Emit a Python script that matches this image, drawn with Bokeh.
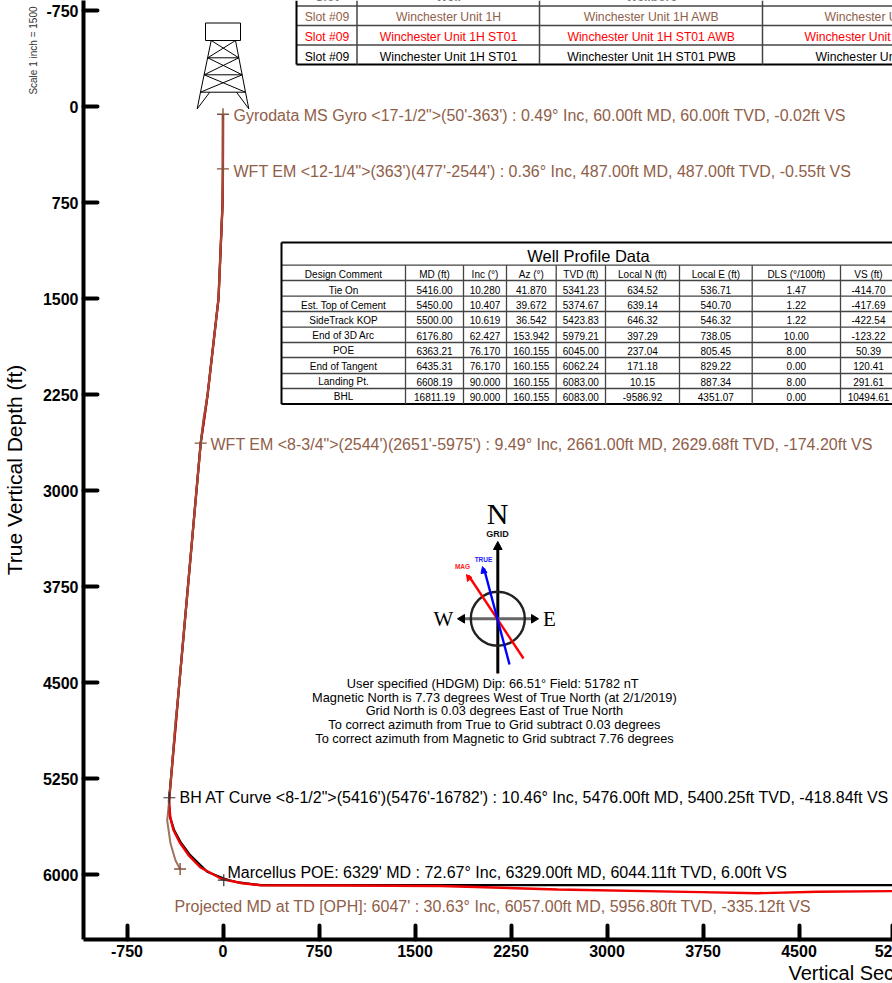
from bokeh.plotting import figure
from bokeh.models import Range1d, FixedTicker, Title
from bokeh.core.properties import value
from bokeh.embed import file_html
from bokeh.resources import INLINE

# ---- data ----
Y_TICKS = [-750, 0, 750, 1500, 2250, 3000, 3750, 4500, 5250, 6000]
X_TICKS = [-750, 0, 750, 1500, 2250, 3000, 3750, 4500]
# the 5250 tick sits just past the right edge of the window; only its first digits show there
X_EDGE_TICK = 5229
X_EDGE_LABEL = "52"

brown_vs = [-0.02, -0.55, -3, -35, -120, -155, -174.2, -353, -371, -418.84, -436, -410, -371, -335.12]
brown_tvd = [60, 487, 750, 1500, 2250, 2453, 2629.68, 4640, 4797, 5400.25, 5578, 5758, 5890, 5956.8]

black_vs = [-0.02, -0.55, -3, -35, -120, -174.2, -353, -414.7, -417.69, -422.54, -415, -383, -330, -255,
            -123.22, 6, 50.39, 120.41, 291.61, 10494.61]
black_tvd = [60, 487, 750, 1500, 2250, 2629.68, 4640, 5341.23, 5374.67, 5423.83, 5550, 5650, 5750, 5850,
             5979.21, 6031, 6045, 6062.24, 6083, 6083]

red_vs = [-0.02, -0.55, -3, -35, -120, -174.2, -353, -418.84, -420, -412, -388, -338, -268, -176, -10, 150,
          300, 900, 1700, 2613, 3730, 4176, 4645, 5230, 6000]
red_tvd = [60, 487, 750, 1500, 2250, 2629.68, 4640, 5400.25, 5450, 5550, 5650, 5750, 5850, 5945, 6035, 6068,
           6084, 6086, 6090, 6117, 6138, 6146, 6135, 6130, 6128]

brown_marks_vs = [-0.02, -0.55, -174.20, -335.12]
brown_marks_tvd = [60.00, 487.00, 2629.68, 5956.80]
black_marks_vs = [-418.84, 6.00]
black_marks_tvd = [5400.25, 6044.11]

survey_labels = [
    "Gyrodata MS Gyro <17-1/2\">(50'-363') : 0.49\u00b0 Inc, 60.00ft MD, 60.00ft TVD, -0.02ft VS",
    "WFT EM <12-1/4\">(363')(477'-2544') : 0.36\u00b0 Inc, 487.00ft MD, 487.00ft TVD, -0.55ft VS",
    "WFT EM <8-3/4\">(2544')(2651'-5975') : 9.49\u00b0 Inc, 2661.00ft MD, 2629.68ft TVD, -174.20ft VS",
    "Projected MD at TD [OPH]: 6047' : 30.63\u00b0 Inc, 6057.00ft MD, 5956.80ft TVD, -335.12ft VS",
    "BH AT Curve <8-1/2\">(5416')(5476'-16782') : 10.46\u00b0 Inc, 5476.00ft MD, 5400.25ft TVD, -418.84ft VS",
    "Marcellus POE: 6329' MD : 72.67\u00b0 Inc, 6329.00ft MD, 6044.11ft TVD, 6.00ft VS",
]

well_header = ["Design Comment", "MD (ft)", "Inc (\u00b0)", "Az (\u00b0)", "TVD (ft)", "Local N (ft)",
               "Local E (ft)", "DLS (\u00b0/100ft)", "VS (ft)"]
well_rows = [
    ["Tie On", "5416.00", "10.280", "41.870", "5341.23", "634.52", "536.71", "1.47", "-414.70"],
    ["Est. Top of Cement", "5450.00", "10.407", "39.672", "5374.67", "639.14", "540.70", "1.22", "-417.69"],
    ["SideTrack KOP", "5500.00", "10.619", "36.542", "5423.83", "646.32", "546.32", "1.22", "-422.54"],
    ["End of 3D Arc", "6176.80", "62.427", "153.942", "5979.21", "397.29", "738.05", "10.00", "-123.22"],
    ["POE", "6363.21", "76.170", "160.155", "6045.00", "237.04", "805.45", "8.00", "50.39"],
    ["End of Tangent", "6435.31", "76.170", "160.155", "6062.24", "171.18", "829.22", "0.00", "120.41"],
    ["Landing Pt.", "6608.19", "90.000", "160.155", "6083.00", "10.15", "887.34", "8.00", "291.61"],
    ["BHL", "16811.19", "90.000", "160.155", "6083.00", "-9586.92", "4351.07", "0.00", "10494.61"],
]

top_rows = [
    ("Slot #09", "Winchester Unit 1H", "Winchester Unit 1H AWB", "Winchester U"),
    ("Slot #09", "Winchester Unit 1H ST01", "Winchester Unit 1H ST01 AWB", "Winchester Unit"),
    ("Slot #09", "Winchester Unit 1H ST01", "Winchester Unit 1H ST01 PWB", "Winchester Un"),
]
top_header = ["Slot", "Well", "Wellbore"]

compass_notes = [
    "User specified (HDGM) Dip: 66.51\u00b0  Field: 51782 nT",
    "Magnetic North is 7.73 degrees West of True North (at 2/1/2019)",
    "Grid North is 0.03 degrees East of True North",
    "To correct azimuth from True to Grid subtract 0.03 degrees",
    "To correct azimuth from Magnetic to Grid subtract 7.76 degrees",
]

BROWN = "#8f6049"
SANS = "Liberation Sans"
SERIF = "Liberation Serif"

# ---- page pixel <-> data scale (1 inch = 1500 ft) ----
X0, Y0, K = 222.5, 106.0, 0.128
def xd(px): return (px - X0) / K
def yd(py): return (py - Y0) / K

p = figure(width=892, height=983, output_backend="svg", toolbar_location=None,
           x_range=Range1d(xd(83), xd(892)), y_range=Range1d(yd(939), yd(0)),
           min_border_left=83, min_border_right=0, min_border_top=0, min_border_bottom=44)
p.grid.visible = False
p.outline_line_color = None
p.background_fill_color = "white"

for ax, ticks in ((p.xaxis[0], X_TICKS), (p.yaxis[0], Y_TICKS)):
    ax.ticker = FixedTicker(ticks=ticks)
    ax.major_label_overrides = {t: str(t) for t in ticks}
    ax.axis_line_width = 4
    ax.axis_line_color = "black"
    ax.major_tick_line_width = 4
    ax.major_tick_line_color = "black"
    ax.major_tick_line_cap = "round"
    ax.major_tick_in = 14
    ax.major_tick_out = 0
    ax.minor_tick_line_color = None
    ax.major_label_text_font = SANS
    ax.major_label_text_font_style = "bold"
    ax.major_label_text_font_size = "16px"
    ax.major_label_text_color = "black"
p.xaxis[0].ticker = FixedTicker(ticks=X_TICKS + [X_EDGE_TICK])
p.xaxis[0].major_label_overrides = {**{t: str(t) for t in X_TICKS}, X_EDGE_TICK: X_EDGE_LABEL}
p.xaxis[0].major_label_standoff = 5
p.yaxis[0].major_label_standoff = 5


def T(pxs, pys, texts, size, color="black", font=SANS, align="center", style="normal"):
    p.text(x=[xd(a) for a in pxs], y=[yd(b) for b in pys], text=texts,
           text_font=value(font), text_font_size=value(f"{size}px"), text_color=color,
           text_align=align, text_baseline="middle", text_font_style=style)


def L(pxs, pys, color="black", width=1.0):
    p.line([xd(a) for a in pxs], [yd(b) for b in pys], line_color=color, line_width=width)


# ---- well paths ----
p.line(black_vs, black_tvd, line_color="black", line_width=2.2)
p.line(red_vs, red_tvd, line_color="#f00000", line_width=2.4)
p.line(brown_vs, brown_tvd, line_color="#8f5a44", line_width=2.0, line_alpha=0.85)

p.scatter(brown_marks_vs, brown_marks_tvd, marker="cross", size=12, line_color="#84523c", line_width=1.4)
p.scatter(black_marks_vs, black_marks_tvd, marker="cross", size=12, line_color="#333333", line_width=1.2)

# ---- survey labels ----
T([233, 233, 210, 174], [115, 171, 443.5, 906], survey_labels[:4], 16, BROWN, align="left")
T([179, 227], [797, 872], survey_labels[4:], 16, "black", align="left")

# ---- rig ----
L([205, 240, 240, 205, 205], [22.5, 22.5, 40, 40, 22.5], "black", 1)
lx = [210.7, 207.3, 203.7, 200]
rx = [235, 238.3, 241.7, 245]
ly = [40, 57.3, 74.3, 91.7]
L([lx[0], lx[3]], [ly[0], ly[3]])
L([rx[0], rx[3]], [ly[0], ly[3]])
for i in range(4):
    if i:
        L([lx[i], rx[i]], [ly[i], ly[i]])
    if i < 3:
        L([lx[i], rx[i + 1]], [ly[i], ly[i + 1]])
        L([rx[i], lx[i + 1]], [ly[i], ly[i + 1]])
L([200, 196.7, 209.3], [91.7, 108.3, 91.7])
L([236, 248.3, 245], [91.7, 108.3, 91.7])

# ---- top table ----
for yy in (5.5, 25, 44.5):
    L([296, 892], [yy, yy], "#444444", 1.5)
L([296, 892], [64, 64], "black", 2.2)
L([296, 296], [0, 64], "black", 2)
for xx in (356.5, 539, 762):
    L([xx, xx], [0, 64], "#444444", 1.5)
T([326.5, 448, 651], [-3.5] * 3, top_header, 12.2, "black", style="bold")
for (row, color, yy) in zip(top_rows, (BROWN, "#ff0000", "black"), (16.5, 36, 56)):
    T([326.5, 448, 651], [yy] * 3, list(row[:3]), 12.2, color)
for (row, color, yy, start) in zip(top_rows, (BROWN, "#ff0000", "black"), (16.5, 36, 56), (824, 804, 815)):
    T([start], [yy], [row[3]], 12.2, color, align="left")

# ---- well profile table ----
col_x = [281, 405, 463, 506, 555.7, 605, 679, 751.7, 840, 896]
row_y = [264.7, 280, 295.7, 311, 326.7, 342, 357, 373, 388]
text_y = [273.7, 289.5, 304.5, 319.7, 335, 350, 365.7, 381, 396]
for yy in row_y:
    L([281, 892], [yy, yy], "#444444", 1.3)
L([281, 892], [242, 242], "black", 2.2)
L([281, 892], [403.5, 403.5], "black", 2.2)
L([281, 281], [242, 403.5], "black", 2)
for xx in col_x[1:-1]:
    L([xx, xx], [264.7, 403.5], "#444444", 1.3)
centers = [(col_x[i] + col_x[i + 1]) / 2 for i in range(9)]
T([588], [255], ["Well Profile Data"], 16.5)
for yy, row in zip(text_y, [well_header] + well_rows):
    T(centers, [yy] * 9, row, 10)

# ---- compass ----
L([497.3, 497.3], [546, 673], "black", 3)
L([460, 534], [618.3, 618.3], "#666666", 3)
p.scatter([xd(497.3)], [yd(618.3)], marker="circle", size=54, fill_color=None,
          line_color="#222222", line_width=2.4)
L([468, 523], [575, 658], "#ff0000", 2.4)
L([483.5, 509], [568, 664], "#0000ff", 2.4)
heads = [
    ([497.3, 493, 501.6], [541, 549, 549], "black"),
    ([457, 464, 464], [618.3, 614, 622.6], "black"),
    ([538, 531, 531], [618.3, 614, 622.6], "black"),
    ([466, 471.5, 467], [574, 577, 581], "#ff0000"),
    ([482, 486.5, 480.5], [566, 572, 573], "#0000ff"),
]
for hx, hy, c in heads:
    p.patch([xd(a) for a in hx], [yd(b) for b in hy], fill_color=c, line_color=c)
T([497], [513], ["N"], 30, "black", SERIF)
T([497], [533], ["GRID"], 9, "#111111", SANS, style="bold")
T([443, 549], [618, 618], ["W", "E"], 21, "black", SERIF)
T([483], [558.5], ["TRUE"], 6.5, "#2222ff", SANS, style="bold")
T([462], [565.5], ["MAG"], 6.5, "#ff2222", SANS, style="bold")
T([494] * 5, [683, 696.5, 710, 724, 738], compass_notes, 12.8)

# ---- texts outside the frame: side-panel titles ----
p.add_layout(Title(text="Scale 1 inch = 1500", align="right", offset=6, standoff=1,
                   text_font=SANS, text_font_size="10px", text_font_style="normal",
                   text_color="#333333"), "left")
p.add_layout(Title(text="True Vertical Depth (ft)", align="center", offset=-2, standoff=0,
                   text_font=SANS, text_font_size="21px", text_font_style="normal",
                   text_color="black"), "left")
p.add_layout(Title(text="Vertical Sec", align="left", offset=705, standoff=0,
                   text_font=SANS, text_font_size="20px", text_font_style="normal",
                   text_color="black"), "below")

open("out.html", "w").write(file_html(p, INLINE))
